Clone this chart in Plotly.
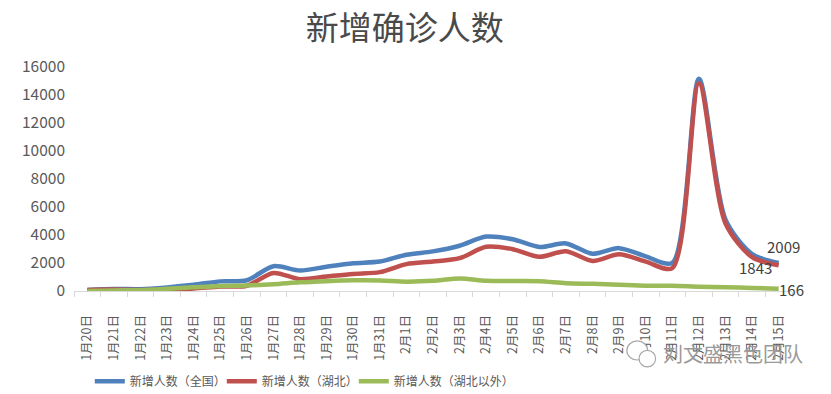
import plotly.graph_objects as go

dates = ["1月20日", "1月21日", "1月22日", "1月23日", "1月24日", "1月25日", "1月26日",
         "1月27日", "1月28日", "1月29日", "1月30日", "1月31日", "2月1日", "2月2日",
         "2月3日", "2月4日", "2月5日", "2月6日", "2月7日", "2月8日", "2月9日",
         "2月10日", "2月11日", "2月12日", "2月13日", "2月14日", "2月15日"]

national = [77, 149, 131, 259, 444, 688, 769, 1771, 1459, 1737, 1982, 2102, 2590, 2829,
            3235, 3887, 3694, 3143, 3399, 2656, 3062, 2478, 2015, 15152, 5090, 2641, 2009]
hubei = [72, 105, 69, 105, 180, 323, 371, 1291, 840, 1032, 1220, 1347, 1921, 2103,
         2345, 3156, 2987, 2447, 2841, 2147, 2618, 2097, 1638, 14840, 4823, 2420, 1843]
outside = [5, 44, 62, 154, 264, 365, 398, 480, 619, 705, 762, 755, 669, 726,
           890, 731, 707, 696, 558, 509, 444, 381, 377, 312, 267, 221, 166]

names = ["新增人数（全国）", "新增人数（湖北）", "新增人数（湖北以外）"]
colors = ["#4F81BD", "#C0504D", "#9BBB59"]
# pixel offsets of the end-value labels relative to the last point
label_shift = [(5, 16), (-23, -2), (13, -1)]

FONT = "Noto Sans CJK SC"
fig = go.Figure()
for name, vals, col in zip(names, [national, hubei, outside], colors):
    fig.add_trace(go.Scatter(
        x=dates, y=vals, name=name, mode="lines",
        line=dict(color=col, width=4.5, shape="spline", smoothing=0.8),
    ))
# invisible spacer entry so the last legend label is not clipped
fig.add_trace(go.Scatter(x=[dates[0]], y=[None], name=" ", mode="lines",
                         line=dict(color="rgba(0,0,0,0)"), hoverinfo="skip"))

for vals, (dx, dy) in zip([national, hubei, outside], label_shift):
    fig.add_annotation(x=dates[-1], y=vals[-1], text=str(vals[-1]), showarrow=False,
                       xshift=dx, yshift=dy, xanchor="center", yanchor="middle",
                       font=dict(family=FONT, size=15, color="#404040"))

fig.update_layout(
    width=831, height=394,
    margin=dict(l=74, r=39, t=67, b=103, autoexpand=False),
    paper_bgcolor="white", plot_bgcolor="white",
    font=dict(family=FONT, color="#595959"),
    title=dict(text="新增确诊人数", xref="container", x=0.487, xanchor="center",
               y=0.928, yanchor="middle",
               font=dict(family=FONT, size=33, color="#4A4A4A")),
    showlegend=True,
    legend=dict(orientation="h", x=0.022, xanchor="left", y=-0.403, yanchor="middle",
                font=dict(family=FONT, size=12, color="#595959"),
                entrywidth=87, entrywidthmode="pixels", itemwidth=30),
    xaxis=dict(type="category", range=[-0.5, 26.5], showgrid=False, automargin=False,
               showline=True, linecolor="#D9D9D9", linewidth=1,
               ticks="outside", tickson="boundaries", ticklen=5, tickcolor="#D9D9D9",
               ticklabelstandoff=18,
               tickangle=-90, tickfont=dict(family=FONT, size=12.5, color="#595959")),
    yaxis=dict(range=[0, 16000], dtick=2000, showgrid=False, zeroline=False,
               showline=False, ticks="", tickformat="d", automargin=False,
               ticklabelstandoff=8,
               tickfont=dict(family=FONT, size=15.5, color="#595959")),
)

# watermark (WeChat-style icon + account name)
fig.add_shape(type="circle", xref="paper", yref="paper",
              x0=0.770, x1=0.799, y0=-0.308, y1=-0.223,
              line=dict(color="#A8A8A8", width=1.2), fillcolor="white")
fig.add_shape(type="circle", xref="paper", yref="paper",
              x0=0.787, x1=0.810, y0=-0.339, y1=-0.265,
              line=dict(color="#A8A8A8", width=1.2), fillcolor="white")
fig.add_annotation(text="刘文盛黑色团队", xref="paper", yref="paper",
                   x=0.818, y=-0.281, xanchor="left", yanchor="middle", showarrow=False,
                   font=dict(family=FONT, size=20, color="#9A9A9A"))

fig.write_html("out.html", config={"displayModeBar": False},
               post_script="document.body.style.margin='0';")
